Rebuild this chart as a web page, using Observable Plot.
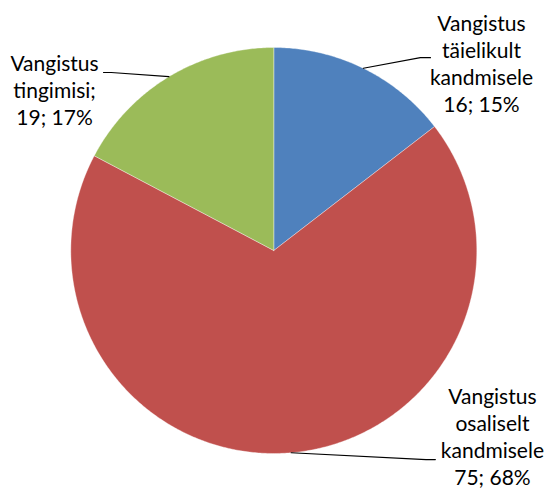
<!DOCTYPE html>
<html><head><meta charset="utf-8">
<script src="https://cdn.jsdelivr.net/npm/d3@7"></script>
<script src="https://cdn.jsdelivr.net/npm/@observablehq/plot@0.6"></script>
<style>html,body{margin:0;padding:0;background:#fff}</style>
</head><body><div id="chart"></div>
<script>
// ---- data ----
const categories = ["Vangistus täielikult kandmisele", "Vangistus osaliselt kandmisele", "Vangistus tingimisi"];
const values = [16, 75, 19];
const labelNames = ["Vangistus\ntäielikult\nkandmisele", "Vangistus\nosaliselt\nkandmisele", "Vangistus\ntingimisi;"];
const colors = ["#4F81BD", "#C0504D", "#9BBB59"];

// ---- layout (in pie-radius units, origin at pie centre, y up) ----
const W = 546, H = 488, CX = 273.3, CY = 250, R = 203;
const labelPos = [
  {x: 1.023, y: 0.680, elbow: [0.722, 0.950], end: [0.772, 0.950]},
  {x: 1.077, y: -1.153, elbow: [0.750, -1.030], end: [0.796, -1.030]},
  {x: -1.080, y: 0.616, elbow: [-0.801, 0.877], end: [-0.839, 0.877]}
];

const total = d3.sum(values);
const data = categories.map((c, i) => ({name: c, value: values[i]}));
const arcs = d3.pie().sort(null).value(d => d.value)(data);

// slice polygons
const slicePts = [];
arcs.forEach(a => {
  const n = Math.max(2, Math.ceil((a.endAngle - a.startAngle) / (Math.PI / 360)));
  slicePts.push({name: a.data.name, x: 0, y: 0});
  for (let k = 0; k <= n; k++) {
    const t = a.startAngle + (a.endAngle - a.startAngle) * k / n;
    slicePts.push({name: a.data.name, x: Math.sin(t), y: Math.cos(t)});
  }
  slicePts.push({name: a.data.name, x: 0, y: 0});
});

// leader lines
const leaderPts = [];
arcs.forEach((a, i) => {
  const m = (a.startAngle + a.endAngle) / 2;
  const L = labelPos[i];
  leaderPts.push({name: a.data.name, x: Math.sin(m), y: Math.cos(m)});
  leaderPts.push({name: a.data.name, x: L.elbow[0], y: L.elbow[1]});
  leaderPts.push({name: a.data.name, x: L.end[0], y: L.end[1]});
});

const labels = arcs.map((a, i) => ({
  x: labelPos[i].x, y: labelPos[i].y,
  text: `${labelNames[i]}\n${a.data.value}; ${Math.round(a.data.value / total * 100)}%`
}));

const chart = Plot.plot({
  width: W, height: H, margin: 0,
  style: {background: "#fff"},
  x: {domain: [-CX / R, (W - CX) / R], axis: null},
  y: {domain: [(CY - H) / R, CY / R], axis: null},
  color: {domain: categories, range: colors},
  marks: [
    Plot.line(slicePts, {x: "x", y: "y", z: "name", fill: "name", stroke: "#ffffff", strokeWidth: 0.6, strokeOpacity: 0.6, curve: "linear"}),
    Plot.line(leaderPts, {x: "x", y: "y", z: "name", stroke: "#000", strokeWidth: 1.1}),
    Plot.text(labels, {x: "x", y: "y", text: "text", lineAnchor: "bottom", textAnchor: "middle",
      fontSize: 21, lineHeight: 27 / 21, fill: "#000", fontFamily: "Lato"})
  ]
});
document.getElementById("chart").appendChild(chart);
</script>
</body></html>
